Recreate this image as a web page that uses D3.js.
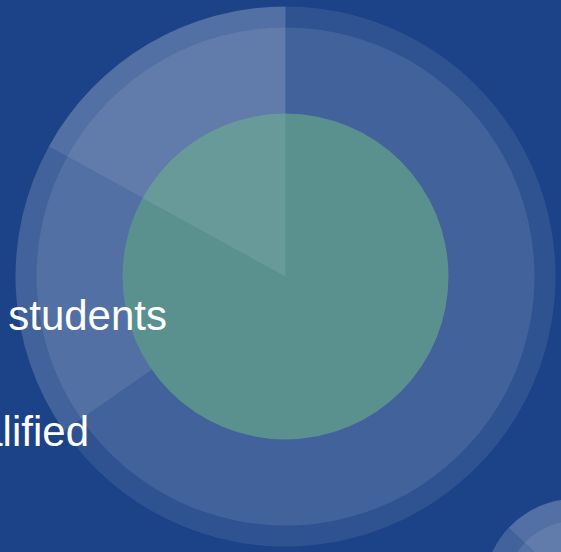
<!DOCTYPE html>
<html>
<head>
<meta charset="utf-8">
<script src="https://cdn.jsdelivr.net/npm/d3@7"></script>
<style>
  body { margin: 0; background: #1c4387; overflow: hidden; }
</style>
</head>
<body>
<div id="chart"></div>
<script>
// slice data (percent of the whole circle, clockwise from 12 o'clock)
var categories = ["Other", "International students", "Qualified"];
var shares = [65.3, 17.7, 17.0];
// labels that sit to the left of the chart (mostly cut off by the page edge)
var labels = ["International students", "Qualified"];

var width = 561, height = 552;

var svg = d3.select("#chart")
  .append("svg")
    .attr("width", width)
    .attr("height", height);

svg.append("rect")
  .attr("width", width)
  .attr("height", height)
  .attr("fill", "#1c4387");

// one layered pie: outer ring, inner disc, optional green core, top slice highlight
function drawPie(cx, cy, rOuter, rRing, rCore, rotate) {
  var g = svg.append("g")
    .attr("transform", "translate(" + cx + "," + cy + ")");

  var pie = d3.pie()
    .sort(null)
    .startAngle(rotate)
    .endAngle(rotate + 2 * Math.PI);
  var arcs = pie(shares);

  var outerArc = d3.arc().innerRadius(0).outerRadius(rOuter);
  var ringArc = d3.arc().innerRadius(0).outerRadius(rRing);

  // outer layer, the two small slices a bit lighter
  var op = d3.scaleOrdinal()
    .domain(categories)
    .range([0.085, 0.165, 0.165]);

  g.selectAll("path.outer")
    .data(arcs)
    .enter()
    .append("path")
      .attr("class", "outer")
      .attr("d", outerArc)
      .attr("fill", "#ffffff")
      .attr("fill-opacity", function(d, i) { return op(categories[i]); });

  // inner layer
  g.selectAll("path.ring")
    .data(arcs)
    .enter()
    .append("path")
      .attr("class", "ring")
      .attr("d", ringArc)
      .attr("fill", "#ffffff")
      .attr("fill-opacity", 0.09);

  if (rCore > 0) {
    g.append("circle")
      .attr("r", rCore)
      .attr("fill", "#5a918f");
  }

  // highlight on the last slice, over everything
  g.selectAll("path.hi")
    .data(arcs.slice(2))
    .enter()
    .append("path")
      .attr("class", "hi")
      .attr("d", outerArc)
      .attr("fill", "#ffffff")
      .attr("fill-opacity", 0.09);
}

drawPie(285.5, 276.5, 270, 249, 163, 0);

// small copy peeking in at the bottom right corner
drawPie(575, 590, 91, 69, 0, 14.4 * Math.PI / 180);

// labels
svg.selectAll("text.lab")
  .data(labels)
  .enter()
  .append("text")
    .attr("class", "lab")
    .attr("x", function(d, i) { return i == 0 ? 167 : 89; })
    .attr("y", function(d, i) { return i == 0 ? 330 : 446; })
    .attr("text-anchor", "end")
    .attr("fill", "#ffffff")
    .style("font-family", "'Liberation Sans', Arial, sans-serif")
    .style("font-size", "42px")
    .text(function(d) { return d; });
</script>
</body>
</html>
